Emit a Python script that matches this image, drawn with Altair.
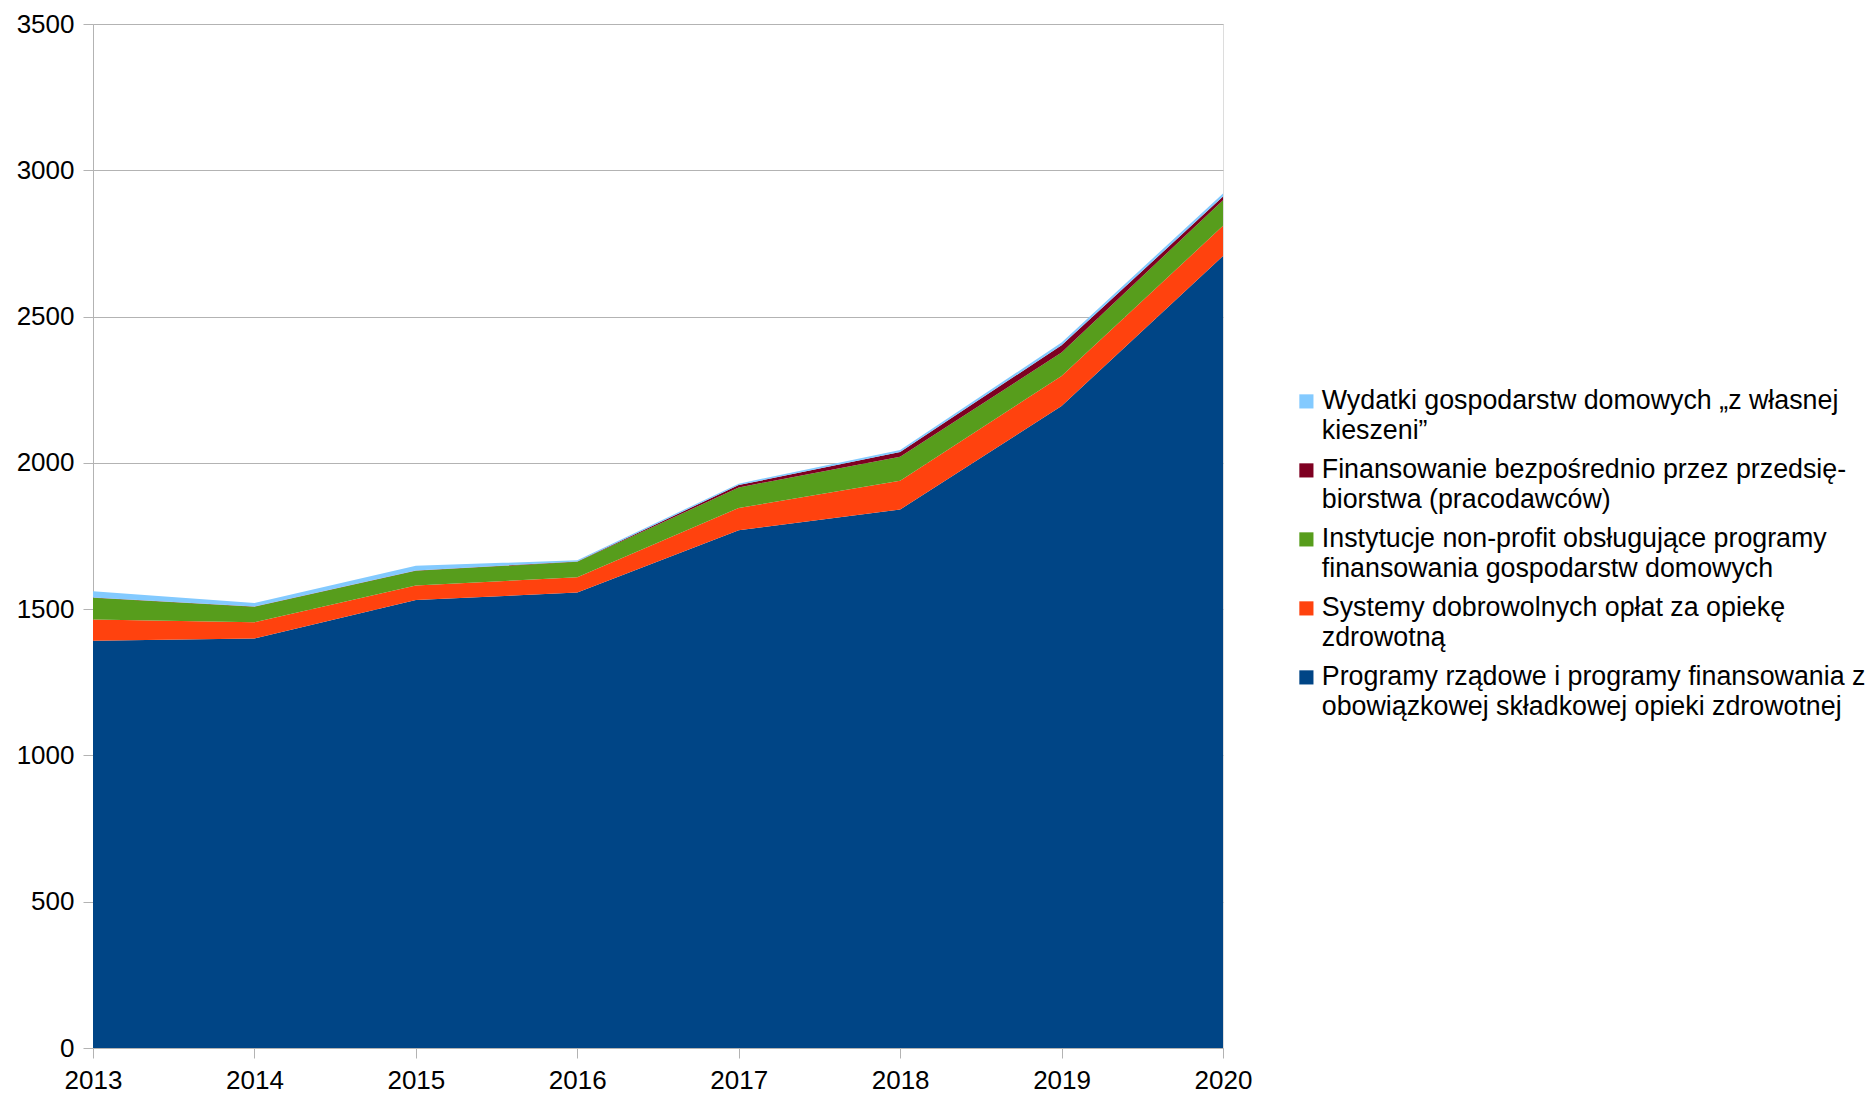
import altair as alt
import pandas as pd

years = [2013, 2014, 2015, 2016, 2017, 2018, 2019, 2020]
programy = [1392, 1400, 1531, 1557, 1770, 1841, 2194, 2707]
systemy = [73, 55, 50, 52, 76, 98, 103, 103]
instytucje = [74, 53, 50, 53, 70, 82, 80, 88]
przedsiebiorstwa = [1, 1, 1, 1, 8, 16, 25, 12]
wydatki = [21, 12, 16, 4, 5, 7, 9, 11]

names = [
    "Programy rządowe i programy finansowania z|obowiązkowej składkowej opieki zdrowotnej",
    "Systemy dobrowolnych opłat za opiekę|zdrowotną",
    "Instytucje non-profit obsługujące programy|finansowania gospodarstw domowych",
    "Finansowanie bezpośrednio przez przedsię-|biorstwa (pracodawców)",
    "Wydatki gospodarstw domowych „z własnej|kieszeni”",
]
colors = ["#004586", "#ff420e", "#579d1c", "#7e0021", "#83caff"]
series = [programy, systemy, instytucje, przedsiebiorstwa, wydatki]

rows = []
for i, (n, vals) in enumerate(zip(names, series)):
    for y, v in zip(years, vals):
        rows.append({"rok": y, "wartosc": v, "seria": n, "kolejnosc": i})
df = pd.DataFrame(rows)

font = "Liberation Sans"

chart = (
    alt.Chart(df)
    .mark_area(interpolate="linear", opacity=1)
    .encode(
        x=alt.X(
            "rok:Q",
            scale=alt.Scale(domain=[2013, 2020], nice=False, zero=False),
            axis=alt.Axis(
                values=years,
                format="d",
                title=None,
                grid=False,
                labelFontSize=26,
                labelFont=font,
                labelColor="#000000",
                tickSize=10,
                tickColor="#b3b3b3",
                domainColor="#b3b3b3",
                labelPadding=9,
                labelFlush=False,
            ),
        ),
        y=alt.Y(
            "wartosc:Q",
            stack="zero",
            scale=alt.Scale(domain=[0, 3500], nice=False),
            axis=alt.Axis(
                values=[0, 500, 1000, 1500, 2000, 2500, 3000, 3500],
                format="d",
                title=None,
                gridColor="#b3b3b3",
                labelFontSize=26,
                labelFont=font,
                labelColor="#000000",
                tickSize=10,
                tickColor="#b3b3b3",
                domainColor="#b3b3b3",
                labelPadding=9,
            ),
        ),
        color=alt.Color(
            "seria:N",
            scale=alt.Scale(domain=names[::-1], range=colors[::-1]),
            legend=alt.Legend(
                title=None,
                orient="none",
                legendX=1200,
                legendY=364,
                labelExpr="split(datum.label, '|')",
                labelFont=font,
                labelFontSize=26.8,
                labelColor="#000000",
                labelLimit=800,
                symbolType="square",
                symbolSize=200,
                symbolStrokeWidth=0,
                symbolOpacity=1,
                rowPadding=11,
                labelBaseline="middle",
                labelOffset=2,
            ),
        ),
        order=alt.Order("kolejnosc:Q", sort="ascending"),
    )
    .properties(
        width=1130,
        height=1024,
        autosize=alt.AutoSizeParams(type="none"),
        padding={"left": 85, "top": 16, "right": 643, "bottom": 47},
    )
    .configure_view(stroke="#b3b3b3")
    .configure(style={"guide-label": {"lineHeight": 30}})
)

chart.save("out.html", embed_options={"renderer": "svg", "actions": False})
